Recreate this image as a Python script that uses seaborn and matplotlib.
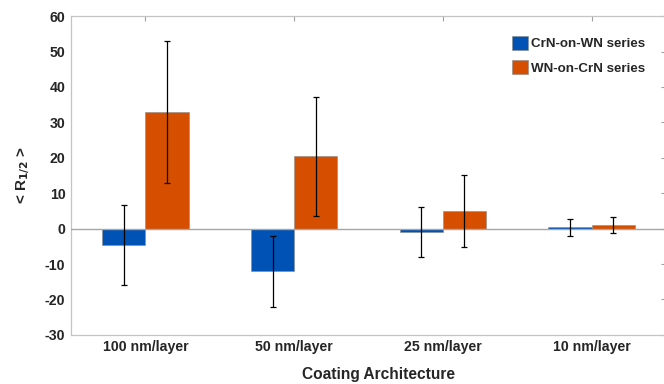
import pandas as pd
import matplotlib
matplotlib.use("Agg")
import matplotlib.pyplot as plt
import seaborn as sns

# Data
architectures = ["100 nm/layer", "50 nm/layer", "25 nm/layer", "10 nm/layer"]
series_names = ["CrN-on-WN series", "WN-on-CrN series"]
crn_on_wn = [-4.7, -12.1, -0.9, 0.4]
crn_on_wn_err = [11.3, 10.0, 7.1, 2.4]
wn_on_crn = [33.0, 20.4, 4.9, 1.1]
wn_on_crn_err = [20.1, 16.8, 10.2, 2.3]

colors = ["#0052B4", "#D64E00"]

df = pd.DataFrame({
    "Architecture": architectures * 2,
    "Series": [series_names[0]] * 4 + [series_names[1]] * 4,
    "R": crn_on_wn + wn_on_crn,
})
errs = [crn_on_wn_err, wn_on_crn_err]

sns.set_style("white")
plt.rcParams["font.family"] = ["Liberation Sans", "DejaVu Sans"]
plt.rcParams["font.weight"] = "bold"
plt.rcParams["axes.unicode_minus"] = False

fig = plt.figure(figsize=(6.64, 3.84), dpi=100)
ax = fig.add_axes([0.107, 0.128, 0.896, 0.83])

sns.barplot(data=df, x="Architecture", y="R", hue="Series", order=architectures,
            hue_order=series_names, palette=colors, width=0.58, errorbar=None,
            edgecolor="#8a8a8a", linewidth=0.4, saturation=1, ax=ax)

# error bars at the bar centres
for cont, err in zip(ax.containers, errs):
    xs = [b.get_x() + b.get_width() / 2 for b in cont]
    ys = [b.get_height() for b in cont]
    ax.errorbar(xs, ys, yerr=err, fmt="none", ecolor="black", elinewidth=0.9,
                capsize=2, capthick=0.9, zorder=5)

ax.axhline(0, color="#a6a6a6", lw=1, zorder=3)

ax.set_xlim(-0.5, 3.5)
ax.set_ylim(-30, 60)
ax.set_yticks(range(-30, 61, 10))
ax.set_xlabel("Coating Architecture", fontsize=11.2, fontweight="bold")
ax.set_ylabel("< R$_{1/2}$ >", fontsize=11, fontweight="bold")
ax.xaxis.set_label_coords(0.516, -0.1)
ax.yaxis.set_label_coords(-0.066, 0.5)

for s in ax.spines.values():
    s.set_color("#c4c4c4")
    s.set_linewidth(0.9)
ax.tick_params(direction="in", top=True, right=True, length=3.5, color="#a0a0a0",
               labelsize=10.2, pad=4)
for lab in ax.get_xticklabels() + ax.get_yticklabels():
    lab.set_fontweight("bold")

ax.legend(frameon=False, loc="upper right", bbox_to_anchor=(0.985, 0.975),
          handlelength=1.2, handleheight=1.2, handletextpad=0.2, labelspacing=0.75,
          prop={"weight": "bold", "size": 9.6})

fig.savefig("out.png", dpi=100)
